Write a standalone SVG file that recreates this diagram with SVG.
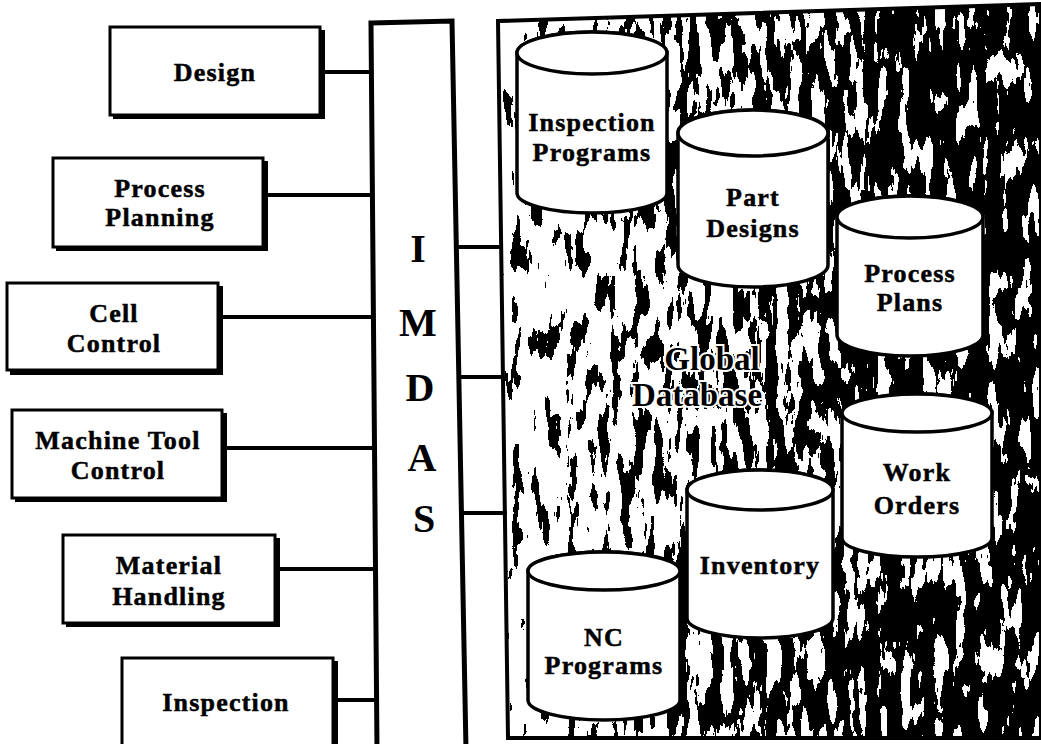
<svg xmlns="http://www.w3.org/2000/svg" width="1041" height="744" viewBox="0 0 1041 744">
<defs>
<style>
.box{fill:#fff;stroke:#000;stroke-width:3}
.shadow{fill:#000}
.lbl{font-family:"Liberation Serif","DejaVu Serif",serif;font-weight:bold;font-size:26px;letter-spacing:1.2px;text-anchor:middle;fill:#000;stroke:#000;stroke-width:0.5}
.big{font-family:"Liberation Serif","DejaVu Serif",serif;font-weight:bold;font-size:40px;text-anchor:middle;fill:#000}
.glob{font-family:"Liberation Serif","DejaVu Serif",serif;font-weight:bold;font-size:33px;text-anchor:middle;fill:#000;stroke:#fff;stroke-width:4;paint-order:stroke}
.conn{stroke:#000;stroke-width:4;fill:none}
.cyl{fill:#fff;stroke:#000;stroke-width:3.5}
</style>
<linearGradient id="dbg" gradientUnits="userSpaceOnUse" x1="500" y1="0" x2="1041" y2="0">
<stop offset="0" stop-color="#e4e4e4"/>
<stop offset="0.1" stop-color="#c0c0c0"/>
<stop offset="0.35" stop-color="#929292"/>
<stop offset="0.6" stop-color="#646464"/>
<stop offset="0.75" stop-color="#444"/>
<stop offset="1" stop-color="#3a3a3a"/>
</linearGradient>
<filter id="grain" filterUnits="userSpaceOnUse" x="490" y="0" width="560" height="744" color-interpolation-filters="sRGB">
<feTurbulence type="fractalNoise" baseFrequency="0.09 0.022" numOctaves="4" seed="11" result="n"/>
<feColorMatrix in="n" type="matrix" values="2.6 0 0 0 -0.8  2.6 0 0 0 -0.8  2.6 0 0 0 -0.8  0 0 0 0 1" result="ng"/>
<feComposite in="SourceGraphic" in2="ng" operator="arithmetic" k1="0" k2="1" k3="1" k4="-0.5" result="sum"/>
<feComponentTransfer in="sum">
<feFuncR type="discrete" tableValues="0 1"/>
<feFuncG type="discrete" tableValues="0 1"/>
<feFuncB type="discrete" tableValues="0 1"/>
<feFuncA type="linear" slope="0" intercept="1"/>
</feComponentTransfer>
</filter>
<clipPath id="dbclip"><polygon points="498,21 1041,4 1041,738 508,738"/></clipPath>
</defs>
<rect width="1041" height="744" fill="#fff"/>

<g id="global-database">
<g clip-path="url(#dbclip)">
<rect x="490" y="0" width="560" height="744" fill="url(#dbg)" filter="url(#grain)"/>
</g>
<polygon points="498,21 1041,4 1041,738 508,738" fill="none" stroke="#000" stroke-width="4"/>
<text class="glob" x="712" y="370">Global</text>
<text class="glob" x="697" y="406">Database</text>
</g>

<g id="connectors">
<line class="conn" x1="320" y1="72" x2="372" y2="72"/>
<line class="conn" x1="263" y1="195" x2="374" y2="195"/>
<line class="conn" x1="218" y1="317" x2="376" y2="317"/>
<line class="conn" x1="222" y1="448" x2="380" y2="448"/>
<line class="conn" x1="275" y1="569" x2="382" y2="569"/>
<line class="conn" x1="333" y1="700" x2="385" y2="700"/>
<line class="conn" x1="454" y1="247" x2="500" y2="247"/>
<line class="conn" x1="459" y1="377" x2="504" y2="377"/>
<line class="conn" x1="462" y1="513" x2="507" y2="513"/>
</g>

<g id="imdas">
<polygon points="371,23 452,21 466,750 377,750" fill="#fff" stroke="#000" stroke-width="5"/>
<text class="big" x="418" y="262">I</text>
<text class="big" x="418" y="336">M</text>
<text class="big" x="420" y="401">D</text>
<text class="big" x="422" y="471">A</text>
<text class="big" x="424" y="532">S</text>
</g>

<g id="design">
<rect class="shadow" x="113" y="30" width="212" height="89"/>
<rect class="box" x="110" y="27" width="210" height="88"/>
<text class="lbl" x="215" y="81">Design</text>
</g>
<g id="process-planning">
<rect class="shadow" x="56" y="161" width="212" height="90"/>
<rect class="box" x="53" y="158" width="210" height="89"/>
<text class="lbl" x="160" y="197">Process</text>
<text class="lbl" x="160" y="226">Planning</text>
</g>
<g id="cell-control">
<rect class="shadow" x="10" y="286" width="213" height="89"/>
<rect class="box" x="7" y="283" width="211" height="87"/>
<text class="lbl" x="114" y="322">Cell</text>
<text class="lbl" x="114" y="352">Control</text>
</g>
<g id="machine-tool-control">
<rect class="shadow" x="15" y="413" width="212" height="89"/>
<rect class="box" x="12" y="410" width="210" height="88"/>
<text class="lbl" x="118" y="449">Machine Tool</text>
<text class="lbl" x="118" y="479">Control</text>
</g>
<g id="material-handling">
<rect class="shadow" x="66" y="538" width="214" height="89"/>
<rect class="box" x="63" y="535" width="212" height="88"/>
<text class="lbl" x="169" y="574">Material</text>
<text class="lbl" x="169" y="605">Handling</text>
</g>
<g id="inspection">
<rect class="shadow" x="125" y="661" width="213" height="90"/>
<rect class="box" x="122" y="658" width="211" height="90"/>
<text class="lbl" x="226" y="711">Inspection</text>
</g>

<g id="inspection-programs">
<path class="cyl" d="M517,53 L517,193 A75,20 0 0 0 667,193 L667,53 A75,21 0 0 0 517,53 Z"/>
<ellipse class="cyl" cx="592" cy="53" rx="75" ry="21"/>
<text class="lbl" x="592" y="131">Inspection</text>
<text class="lbl" x="592" y="161">Programs</text>
</g>
<g id="part-designs">
<path class="cyl" d="M678,133 L678,265 A75,22 0 0 0 828,265 L828,133 A75,23 0 0 0 678,133 Z"/>
<ellipse class="cyl" cx="753" cy="133" rx="75" ry="23"/>
<text class="lbl" x="753" y="206">Part</text>
<text class="lbl" x="753" y="237">Designs</text>
</g>
<g id="process-plans">
<path class="cyl" d="M837,217 L837,335 A73,21 0 0 0 983,335 L983,217 A73,21 0 0 0 837,217 Z"/>
<ellipse class="cyl" cx="910" cy="217" rx="73" ry="21"/>
<text class="lbl" x="910" y="282">Process</text>
<text class="lbl" x="910" y="311">Plans</text>
</g>
<g id="work-orders">
<path class="cyl" d="M842,413 L842,538 A75,19 0 0 0 992,538 L992,413 A75,19 0 0 0 842,413 Z"/>
<ellipse class="cyl" cx="917" cy="413" rx="75" ry="19"/>
<text class="lbl" x="917" y="481">Work</text>
<text class="lbl" x="917" y="514">Orders</text>
</g>
<g id="inventory">
<path class="cyl" d="M687,490 L687,618 A73,20 0 0 0 833,618 L833,490 A73,20 0 0 0 687,490 Z"/>
<ellipse class="cyl" cx="760" cy="490" rx="73" ry="20"/>
<text class="lbl" x="760" y="574">Inventory</text>
</g>
<g id="nc-programs">
<path class="cyl" d="M528,571 L528,700 A76,20 0 0 0 680,700 L680,571 A76,19 0 0 0 528,571 Z"/>
<ellipse class="cyl" cx="604" cy="571" rx="76" ry="19"/>
<text class="lbl" x="604" y="646">NC</text>
<text class="lbl" x="604" y="674">Programs</text>
</g>
</svg>
